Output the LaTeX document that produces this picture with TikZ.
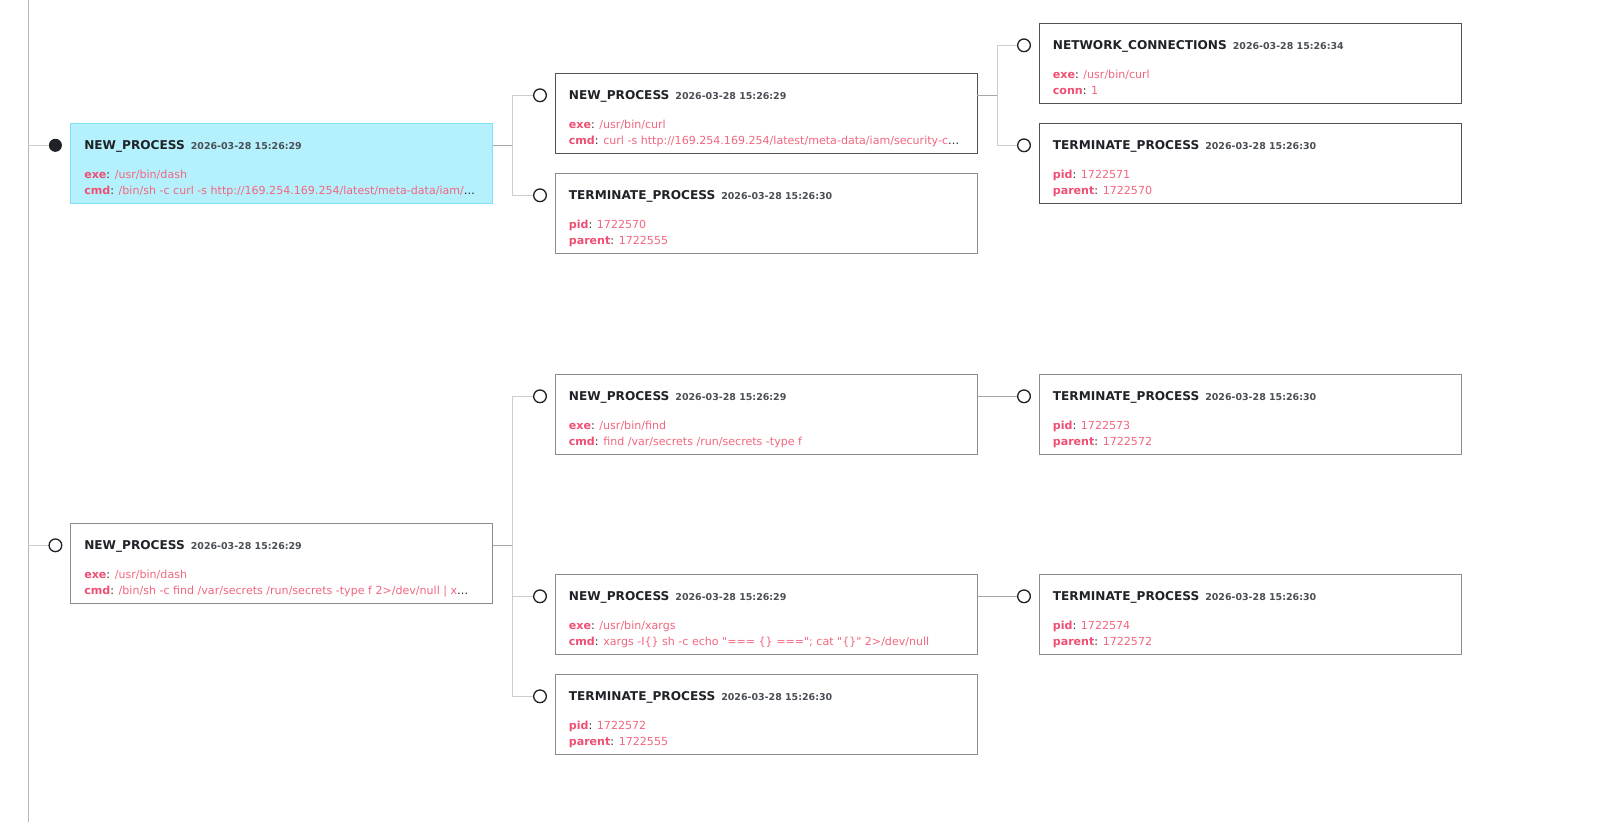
\documentclass[tikz,border=0pt]{standalone}
\usepackage{fontspec}
\newfontfamily\evfont{DejaVu Sans}
\usetikzlibrary{positioning}

\definecolor{titletext}{HTML}{1F2328}
\definecolor{timetext}{HTML}{4A4F55}
\definecolor{keypink}{HTML}{EE4F72}
\definecolor{valpink}{HTML}{F2667F}
\definecolor{selfill}{HTML}{B5F1FD}
\definecolor{seldraw}{HTML}{80E0F5}

\newcommand{\kv}[2]{{\color{keypink}\bfseries #1}{\color{titletext}:} {\color{valpink}#2}}
\newcommand{\more}{{\color{titletext}\ldots}}
\newcommand{\evbox}[7]{%
  \node[evbox,#2] (#1) at (#3) {};
  \node[head] (#1-h) at ([shift={(13.3,-26)}]#1.north west) {#4\hspace{4.5pt}{\timefont #5}};
  \node[field] (#1-a) at ([shift={(13.3,-54.8)}]#1.north west) {#6};
  \node[field] (#1-b) at ([shift={(13.3,-71)}]#1.north west) {#7};
}
\newcommand{\timefont}{\fontsize{7.1}{8}\selectfont\color{timetext}}

\tikzset{
  evbox/.style={anchor=north west, draw=black!45, line width=0.9pt, fill=white,
    minimum width=316.5pt, minimum height=60pt, inner sep=0pt, outer sep=0pt},
  darkbox/.style={draw=black!68},
  selbox/.style={fill=selfill, draw=seldraw},
  head/.style={anchor=base west, inner sep=0pt, text=titletext,
    font=\evfont\bfseries\fontsize{9.1}{11}\selectfont},
  field/.style={anchor=base west, inner sep=0pt, font=\evfont\fontsize{8.3}{10}\selectfont},
  ring/.style={circle, draw=titletext, line width=1pt, fill=white, minimum size=9.5pt, inner sep=0pt},
  dot/.style={circle, fill=titletext, minimum size=9.8pt, inner sep=0pt},
  stem/.style={draw=black!35, line width=0.9pt},
  bus/.style={draw=black!20, line width=0.9pt},
  rootline/.style={draw=black!28, line width=1.1pt}
}

\begin{document}
\begin{tikzpicture}[x=0.75pt, y=0.75pt]
\useasboundingbox (0,0) rectangle (1611,-822);

% first command
\evbox{b1}{selbox}{70.7,-123.3}{NEW\_PROCESS}{2026-03-28 15:26:29}
  {\kv{exe}{/usr/bin/dash}}
  {\kv{cmd}{/bin/sh -c curl -s http://169.254.169.254/latest/meta-data/iam/}\more}
\evbox{b2}{darkbox}{555.3,-73.3}{NEW\_PROCESS}{2026-03-28 15:26:29}
  {\kv{exe}{/usr/bin/curl}}
  {\kv{cmd}{curl -s http://169.254.169.254/latest/meta-data/iam/security-c}\more}
\evbox{b3}{}{555.3,-173.3}{TERMINATE\_PROCESS}{2026-03-28 15:26:30}
  {\kv{pid}{1722570}}
  {\kv{parent}{1722555}}
\evbox{b4}{darkbox}{1039.3,-23.3}{NETWORK\_CONNECTIONS}{2026-03-28 15:26:34}
  {\kv{exe}{/usr/bin/curl}}
  {\kv{conn}{1}}
\evbox{b5}{darkbox}{1039.3,-123.3}{TERMINATE\_PROCESS}{2026-03-28 15:26:30}
  {\kv{pid}{1722571}}
  {\kv{parent}{1722570}}

% second command
\evbox{b7}{}{70.7,-523.3}{NEW\_PROCESS}{2026-03-28 15:26:29}
  {\kv{exe}{/usr/bin/dash}}
  {\kv{cmd}{/bin/sh -c find /var/secrets /run/secrets -type f 2>/dev/null | x}\more}
\evbox{b6}{}{555.3,-374.3}{NEW\_PROCESS}{2026-03-28 15:26:29}
  {\kv{exe}{/usr/bin/find}}
  {\kv{cmd}{find /var/secrets /run/secrets -type f}}
\evbox{b8}{}{555.3,-574.3}{NEW\_PROCESS}{2026-03-28 15:26:29}
  {\kv{exe}{/usr/bin/xargs}}
  {\kv{cmd}{xargs -I\{\} sh -c echo "=== \{\} ==="; cat "\{\}" 2>/dev/null}}
\evbox{b9}{}{555.3,-674.3}{TERMINATE\_PROCESS}{2026-03-28 15:26:30}
  {\kv{pid}{1722572}}
  {\kv{parent}{1722555}}
\evbox{b10}{}{1039.3,-374.3}{TERMINATE\_PROCESS}{2026-03-28 15:26:30}
  {\kv{pid}{1722573}}
  {\kv{parent}{1722572}}
\evbox{b11}{}{1039.3,-574.3}{TERMINATE\_PROCESS}{2026-03-28 15:26:30}
  {\kv{pid}{1722574}}
  {\kv{parent}{1722572}}

% markers
\node[dot] (c1) at ([shift={(-15.3,-22)}]b1.north west) {};
\foreach \b in {2,...,11}{
  \node[ring] (c\b) at ([shift={(-15.3,-22)}]b\b.north west) {};
}

% timeline
\coordinate (rt) at (28.3,0);
\coordinate (rb) at (28.3,-822);
\draw[rootline] (rt) -- (rb);
\draw[bus] (rt |- c1) -- (c1);
\draw[bus] (rt |- c7) -- (c7);

% links
\path (b1.east |- c1) ++(19.7,0) coordinate (j1);
\draw[stem] (b1.east |- c1) -- (j1);
\draw[bus] (c2) -| (j1) |- (c3);

\path (b2.east |- c2) ++(20.3,0) coordinate (j2);
\draw[stem] (b2.east |- c2) -- (j2);
\draw[bus] (c4) -| (j2) |- (c5);

\path (b7.east |- c7) ++(19.7,0) coordinate (j7);
\draw[stem] (b7.east |- c7) -- (j7);
\draw[bus] (c6) -| (j7) |- (c9);
\draw[bus] (j7 |- c8) -- (c8);

\draw[stem] (b6.east |- c6) -- (c10);
\draw[stem] (b8.east |- c8) -- (c11);

\end{tikzpicture}
\end{document}
